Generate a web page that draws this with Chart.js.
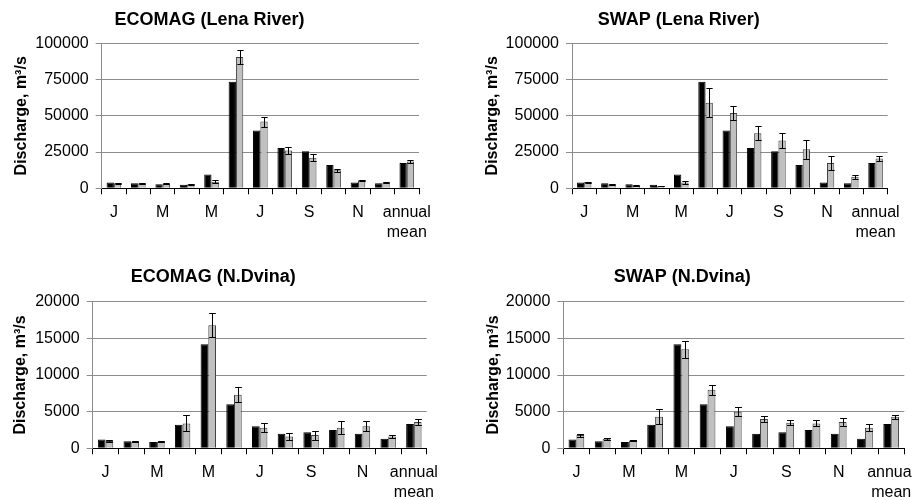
<!DOCTYPE html>
<html>
<head>
<meta charset="utf-8">
<script src="https://cdn.jsdelivr.net/npm/chart.js@4.4.1/dist/chart.umd.min.js"></script>
<style>
  body { margin: 0; width: 912px; height: 500px; overflow: hidden; background: #fff; position: relative; }
  canvas { position: absolute; }
</style>
</head>
<body>
<canvas id="c1" width="438" height="250" style="left:0px;top:0px"></canvas>
<canvas id="c2" width="438" height="250" style="left:470px;top:0px"></canvas>
<canvas id="c3" width="438" height="250" style="left:0px;top:250px"></canvas>
<canvas id="c4" width="460" height="250" style="left:460px;top:250px"></canvas>
<script>
// month labels (J F M A M J J A S O N D + annual mean)
var months = ['J', '', 'M', '', 'M', '', 'J', '', 'S', '', 'N', '', ['annual', 'mean']];

// observed discharge
var obsLena = [4000, 3500, 2800, 2400, 9500, 73500, 39800, 27800, 25500, 16000, 4000, 3500, 17500];
var obsDvina = [1200, 950, 850, 3200, 14200, 6000, 3000, 2000, 2200, 2500, 2000, 1300, 3300];

// simulated discharge and error (+/-)
var ecomagLena = [3500, 3400, 3100, 2800, 4500, 90500, 46000, 26000, 21000, 12500, 5500, 4000, 18500];
var ecomagLenaErr = [300, 300, 300, 300, 1000, 5000, 3500, 2500, 2500, 1000, 500, 400, 1000];
var swapLena = [4300, 2800, 2000, 1500, 4000, 59000, 52000, 38000, 33000, 27000, 17500, 8000, 20500];
var swapLenaErr = [300, 300, 200, 200, 800, 10000, 4700, 5000, 5000, 6500, 5000, 1500, 2000];
var ecomagDvina = [1000, 900, 900, 3400, 16800, 7300, 2800, 1600, 1800, 2800, 3000, 1600, 3600];
var ecomagDvinaErr = [100, 80, 80, 1100, 1600, 1000, 600, 500, 600, 900, 700, 250, 450];
var swapDvina = [1800, 1300, 1050, 4300, 13500, 8000, 5000, 4000, 3500, 3400, 3600, 2800, 4300];
var swapDvinaErr = [200, 100, 80, 1000, 1200, 700, 600, 400, 300, 400, 500, 500, 300];

var FONT = '"Liberation Sans", Arial, sans-serif';

var errorBars = {
  id: 'errorBars',
  afterDatasetsDraw: function (chart, args, opts) {
    var meta = chart.getDatasetMeta(1);
    var y = chart.scales.y;
    var ctx = chart.ctx;
    var vals = chart.data.datasets[1].data;
    var errs = opts.errors || [];
    ctx.save();
    ctx.strokeStyle = '#000';
    ctx.lineWidth = 1;
    meta.data.forEach(function (bar, i) {
      var x = Math.round(bar.x) + 0.5;
      var top = Math.round(y.getPixelForValue(vals[i] + errs[i])) + 0.5;
      var bot = Math.round(y.getPixelForValue(vals[i] - errs[i])) + 0.5;
      var hw = bar.width / 2 - 0.5;
      ctx.beginPath();
      ctx.moveTo(x, top); ctx.lineTo(x, bot);
      ctx.moveTo(x - hw, top); ctx.lineTo(x + hw, top);
      ctx.moveTo(x - hw, bot); ctx.lineTo(x + hw, bot);
      ctx.stroke();
    });
    ctx.restore();
  }
};

function makeChart(id, p) {
  return new Chart(document.getElementById(id), {
    type: 'bar',
    data: {
      labels: months,
      datasets: [
        { label: 'observed', data: p.obs, backgroundColor: '#000', borderColor: '#000', borderWidth: 1,
          barPercentage: 1, categoryPercentage: 0.6 },
        { label: 'simulated', data: p.sim, backgroundColor: '#c0c0c0', borderColor: '#404040', borderWidth: 1,
          barPercentage: 1, categoryPercentage: 0.6 }
      ]
    },
    options: {
      responsive: false,
      animation: false,
      layout: { padding: { left: 0, right: p.rightPad, top: 0, bottom: 0 } },
      plugins: {
        legend: { display: false },
        tooltip: { enabled: false },
        title: {
          display: true,
          text: p.title,
          color: '#000',
          font: { family: FONT, size: 18, weight: 'bold', lineHeight: 1.2 },
          padding: { top: p.titleTop, bottom: p.titleBottom }
        },
        errorBars: { errors: p.err }
      },
      scales: {
        x: {
          grid: { display: true, drawOnChartArea: false, drawTicks: true, tickLength: 6, color: '#000', offset: true },
          border: { display: true, color: '#000', width: 1 },
          ticks: { autoSkip: false, maxRotation: 0, color: '#000', padding: 8,
                   font: { family: FONT, size: 16, lineHeight: 1.25 } },
          afterFit: function (s) { s.height = p.xHeight; s.paddingLeft = 0; s.paddingRight = 0; }
        },
        y: {
          min: 0,
          max: p.max,
          ticks: { stepSize: p.step, color: '#000', padding: 7,
                   font: { family: FONT, size: 16 },
                   callback: function (v) { return v; } },
          grid: { color: '#8c8c8c', tickLength: 6, drawTicks: true },
          border: { display: true, color: '#8c8c8c' },
          title: { display: true, text: 'Discharge, m\u00b3/s', color: '#000',
                   font: { family: FONT, size: 16, weight: 'bold', lineHeight: 1.2 },
                   padding: { top: p.yTitlePad, bottom: 0 } },
          afterFit: function (s) { s.width = p.yWidth; s.paddingTop = 0; s.paddingBottom = 0; }
        }
      }
    },
    plugins: [errorBars]
  });
}

makeChart('c1', { title: 'ECOMAG (Lena River)', obs: obsLena, sim: ecomagLena, err: ecomagLenaErr,
  max: 100000, step: 25000, yWidth: 101.7, yTitlePad: 12, rightPad: 19,
  titleTop: 9, titleBottom: 12.7, xHeight: 61.7 });
makeChart('c2', { title: 'SWAP (Lena River)', obs: obsLena, sim: swapLena, err: swapLenaErr,
  max: 100000, step: 25000, yWidth: 102, yTitlePad: 13.4, rightPad: 20.3,
  titleTop: 9, titleBottom: 12.7, xHeight: 61.7 });
makeChart('c3', { title: 'ECOMAG (N.Dvina)', obs: obsDvina, sim: ecomagDvina, err: ecomagDvinaErr,
  max: 20000, step: 5000, yWidth: 92.7, yTitlePad: 11, rightPad: 11.3,
  titleTop: 15.9, titleBottom: 14.2, xHeight: 51.7 });
makeChart('c4', { title: 'SWAP (N.Dvina)', obs: obsDvina, sim: swapDvina, err: swapDvinaErr,
  max: 20000, step: 5000, yWidth: 103.3, yTitlePad: 23.7, rightPad: 15.7,
  titleTop: 15.9, titleBottom: 14.2, xHeight: 51.7 });
</script>
</body>
</html>
